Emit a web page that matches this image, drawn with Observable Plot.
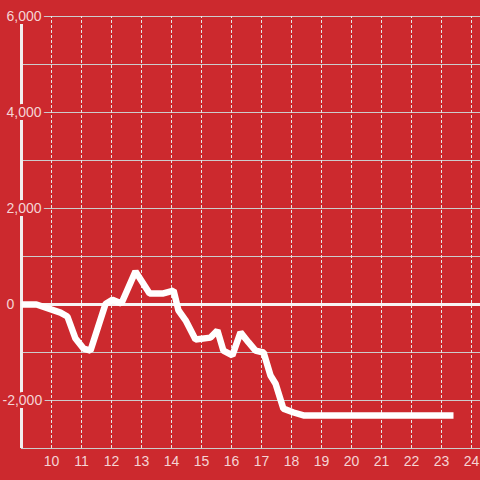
<!DOCTYPE html>
<html><head><meta charset="utf-8">
<script src="https://cdn.jsdelivr.net/npm/d3@7"></script>
<script src="https://cdn.jsdelivr.net/npm/@observablehq/plot@0.6"></script>
<style>body{margin:0;background:#cc292e;}</style>
</head><body><div id="chart"></div>
<script>
const hours  = [9, 9.5, 10.3, 10.53, 10.8, 11.07, 11.3, 11.8, 12.03, 12.33, 12.8, 13.27, 13.73, 14.07, 14.23, 14.47, 14.8, 15.3, 15.53, 15.73, 16.03, 16.3, 16.57, 16.8, 17.07, 17.3, 17.47, 17.73, 18.07, 18.4, 23.4];
const values = [0, 0, -170, -250, -710, -920, -960, 10, 100, 20, 690, 230, 230, 290, -120, -330, -730, -690, -540, -960, -1060, -580, -790, -960, -1000, -1480, -1650, -2170, -2250, -2310, -2310];
const xTicks = [10, 11, 12, 13, 14, 15, 16, 17, 18, 19, 20, 21, 22, 23, 24];
const gridY = [-3000, -2000, -1000, 0, 1000, 2000, 3000, 4000, 5000, 6000];
const yLabels = [-2000, 0, 2000, 4000, 6000];

const bg = "#cc292e";
const labelColor = "#f5d4d5";
const data = hours.map((h, i) => ({h, v: values[i]}));
const fmt = d3.format(",");

const chart = Plot.plot({
  width: 480, height: 480,
  marginLeft: 21, marginRight: 0, marginTop: 16, marginBottom: 32,
  style: {background: bg, fontFamily: "'Liberation Sans', Arial, sans-serif", fontSize: "14px"},
  x: {domain: [9, 24.3], axis: null},
  y: {domain: [-3000, 6000], axis: null},
  marks: [
    Plot.ruleY(gridY, {stroke: "#cccccc", strokeWidth: 1}),
    Plot.ruleX(xTicks, {y1: -3000, y2: 6000, stroke: "#e6e6e6", strokeWidth: 1, strokeDasharray: "3,2"}),
    Plot.ruleY([0], {stroke: "#f8f4f4", strokeWidth: 3}),
    Plot.ruleX([9], {y1: -3000, y2: 6000, stroke: "#f2eeee", strokeWidth: 3}),
    Plot.line(data, {x: "h", y: "v", stroke: "white", strokeWidth: 6.5, strokeLinecap: "butt", strokeLinejoin: "miter"}),
    Plot.text(yLabels.filter(d => d >= 0), {x: () => 9, y: d => d, text: d => fmt(d), textAnchor: "start", dx: -15, fill: labelColor, stroke: bg, strokeWidth: 6}),
    Plot.text(yLabels.filter(d => d < 0), {x: () => 9, y: d => d, text: d => "-" + fmt(-d), textAnchor: "start", dx: -19, fill: labelColor, stroke: bg, strokeWidth: 6}),
    Plot.text(xTicks, {x: d => d, y: () => -3000, text: d => String(d), textAnchor: "middle", dy: 13, fill: labelColor})
  ]
});
document.getElementById("chart").appendChild(chart);
</script>
</body></html>
